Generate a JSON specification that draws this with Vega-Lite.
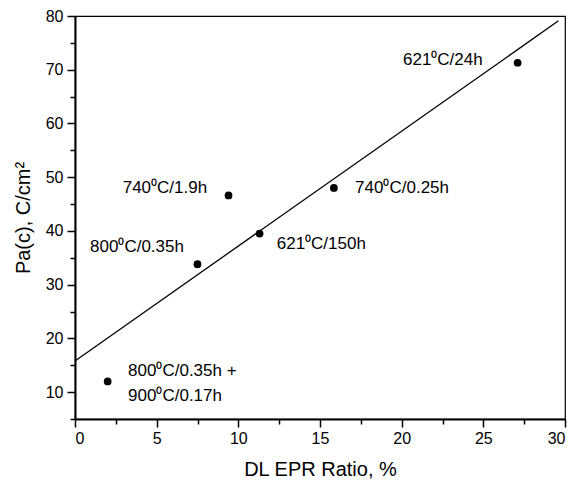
{
  "$schema": "https://vega.github.io/schema/vega-lite/v6.json",
  "width": 490,
  "height": 403,
  "autosize": "none",
  "padding": {"left": 75, "top": 16, "right": 12, "bottom": 63},
  "background": "white",
  "config": {
    "font": "Liberation Sans",
    "view": {"stroke": "black", "strokeWidth": 1.2},
    "axis": {"grid": false, "labelColor": "black", "titleColor": "black", "tickColor": "black", "domainColor": "black", "labelFont": "Liberation Sans", "titleFont": "Liberation Sans"}
  },
  "datasets": {
    "fit": [{"x": 0, "y": 15.8}, {"x": 29.6, "y": 79.1}],
    "points": [
      {"x": 2.0, "y": 12.0},
      {"x": 7.5, "y": 33.8},
      {"x": 9.4, "y": 46.6},
      {"x": 11.3, "y": 39.5},
      {"x": 15.85, "y": 48.0},
      {"x": 27.1, "y": 71.3}
    ],
    "labels": [
      {"x": 20.08, "y": 71.8, "label": "621⁰C/24h"},
      {"x": 2.92, "y": 47.9, "label": "740⁰C/1.9h"},
      {"x": 17.15, "y": 47.9, "label": "740⁰C/0.25h"},
      {"x": 0.92, "y": 37.1, "label": "800⁰C/0.35h"},
      {"x": 12.35, "y": 37.5, "label": "621⁰C/150h"},
      {"x": 3.25, "y": 13.9, "label": "800⁰C/0.35h +"},
      {"x": 3.25, "y": 9.2, "label": "900⁰C/0.17h"}
    ]
  },
  "layer": [
    {
      "data": {"name": "fit"},
      "mark": {"type": "line", "color": "black", "strokeWidth": 1.3},
      "encoding": {
        "x": {"field": "x", "type": "quantitative", "scale": {"domain": [0, 30], "nice": false},
          "axis": {"orient": "bottom", "values": [0, 5, 10, 15, 20, 25, 30], "title": "DL EPR Ratio, %", "tickSize": 8, "tickWidth": 1.5, "domainWidth": 2, "labelFontSize": 16, "labelPadding": 3, "titleFontSize": 20, "titleFontWeight": "normal", "titlePadding": 13}},
        "y": {"field": "y", "type": "quantitative", "scale": {"domain": [5, 80], "nice": false},
          "axis": {"orient": "left", "values": [10, 20, 30, 40, 50, 60, 70, 80], "title": "Pa(c), C/cm²", "tickSize": 8, "tickWidth": 1.5, "domainWidth": 2, "labelFontSize": 16, "labelPadding": 4, "titleFontSize": 20, "titleFontWeight": "normal", "titlePadding": 12}}
      }
    },
    {
      "data": {"name": "points"},
      "mark": {"type": "circle", "size": 60, "color": "black", "opacity": 1},
      "encoding": {
        "x": {"field": "x", "type": "quantitative", "scale": {"domain": [0, 30], "nice": false},
          "axis": {"orient": "bottom", "values": [2.5, 7.5, 12.5, 17.5, 22.5, 27.5], "labels": false, "domain": false, "title": null, "tickSize": 5, "tickWidth": 1.5}},
        "y": {"field": "y", "type": "quantitative", "scale": {"domain": [5, 80], "nice": false},
          "axis": {"orient": "left", "values": [5, 15, 25, 35, 45, 55, 65, 75], "labels": false, "domain": false, "title": null, "tickSize": 5, "tickWidth": 1.5}}
      }
    },
    {
      "data": {"name": "labels"},
      "mark": {"type": "text", "align": "left", "baseline": "middle", "fontSize": 17, "color": "black", "font": "Liberation Sans"},
      "encoding": {
        "x": {"field": "x", "type": "quantitative", "axis": null},
        "y": {"field": "y", "type": "quantitative", "axis": null},
        "text": {"field": "label"}
      }
    }
  ],
  "resolve": {"axis": {"x": "independent", "y": "independent"}}
}
